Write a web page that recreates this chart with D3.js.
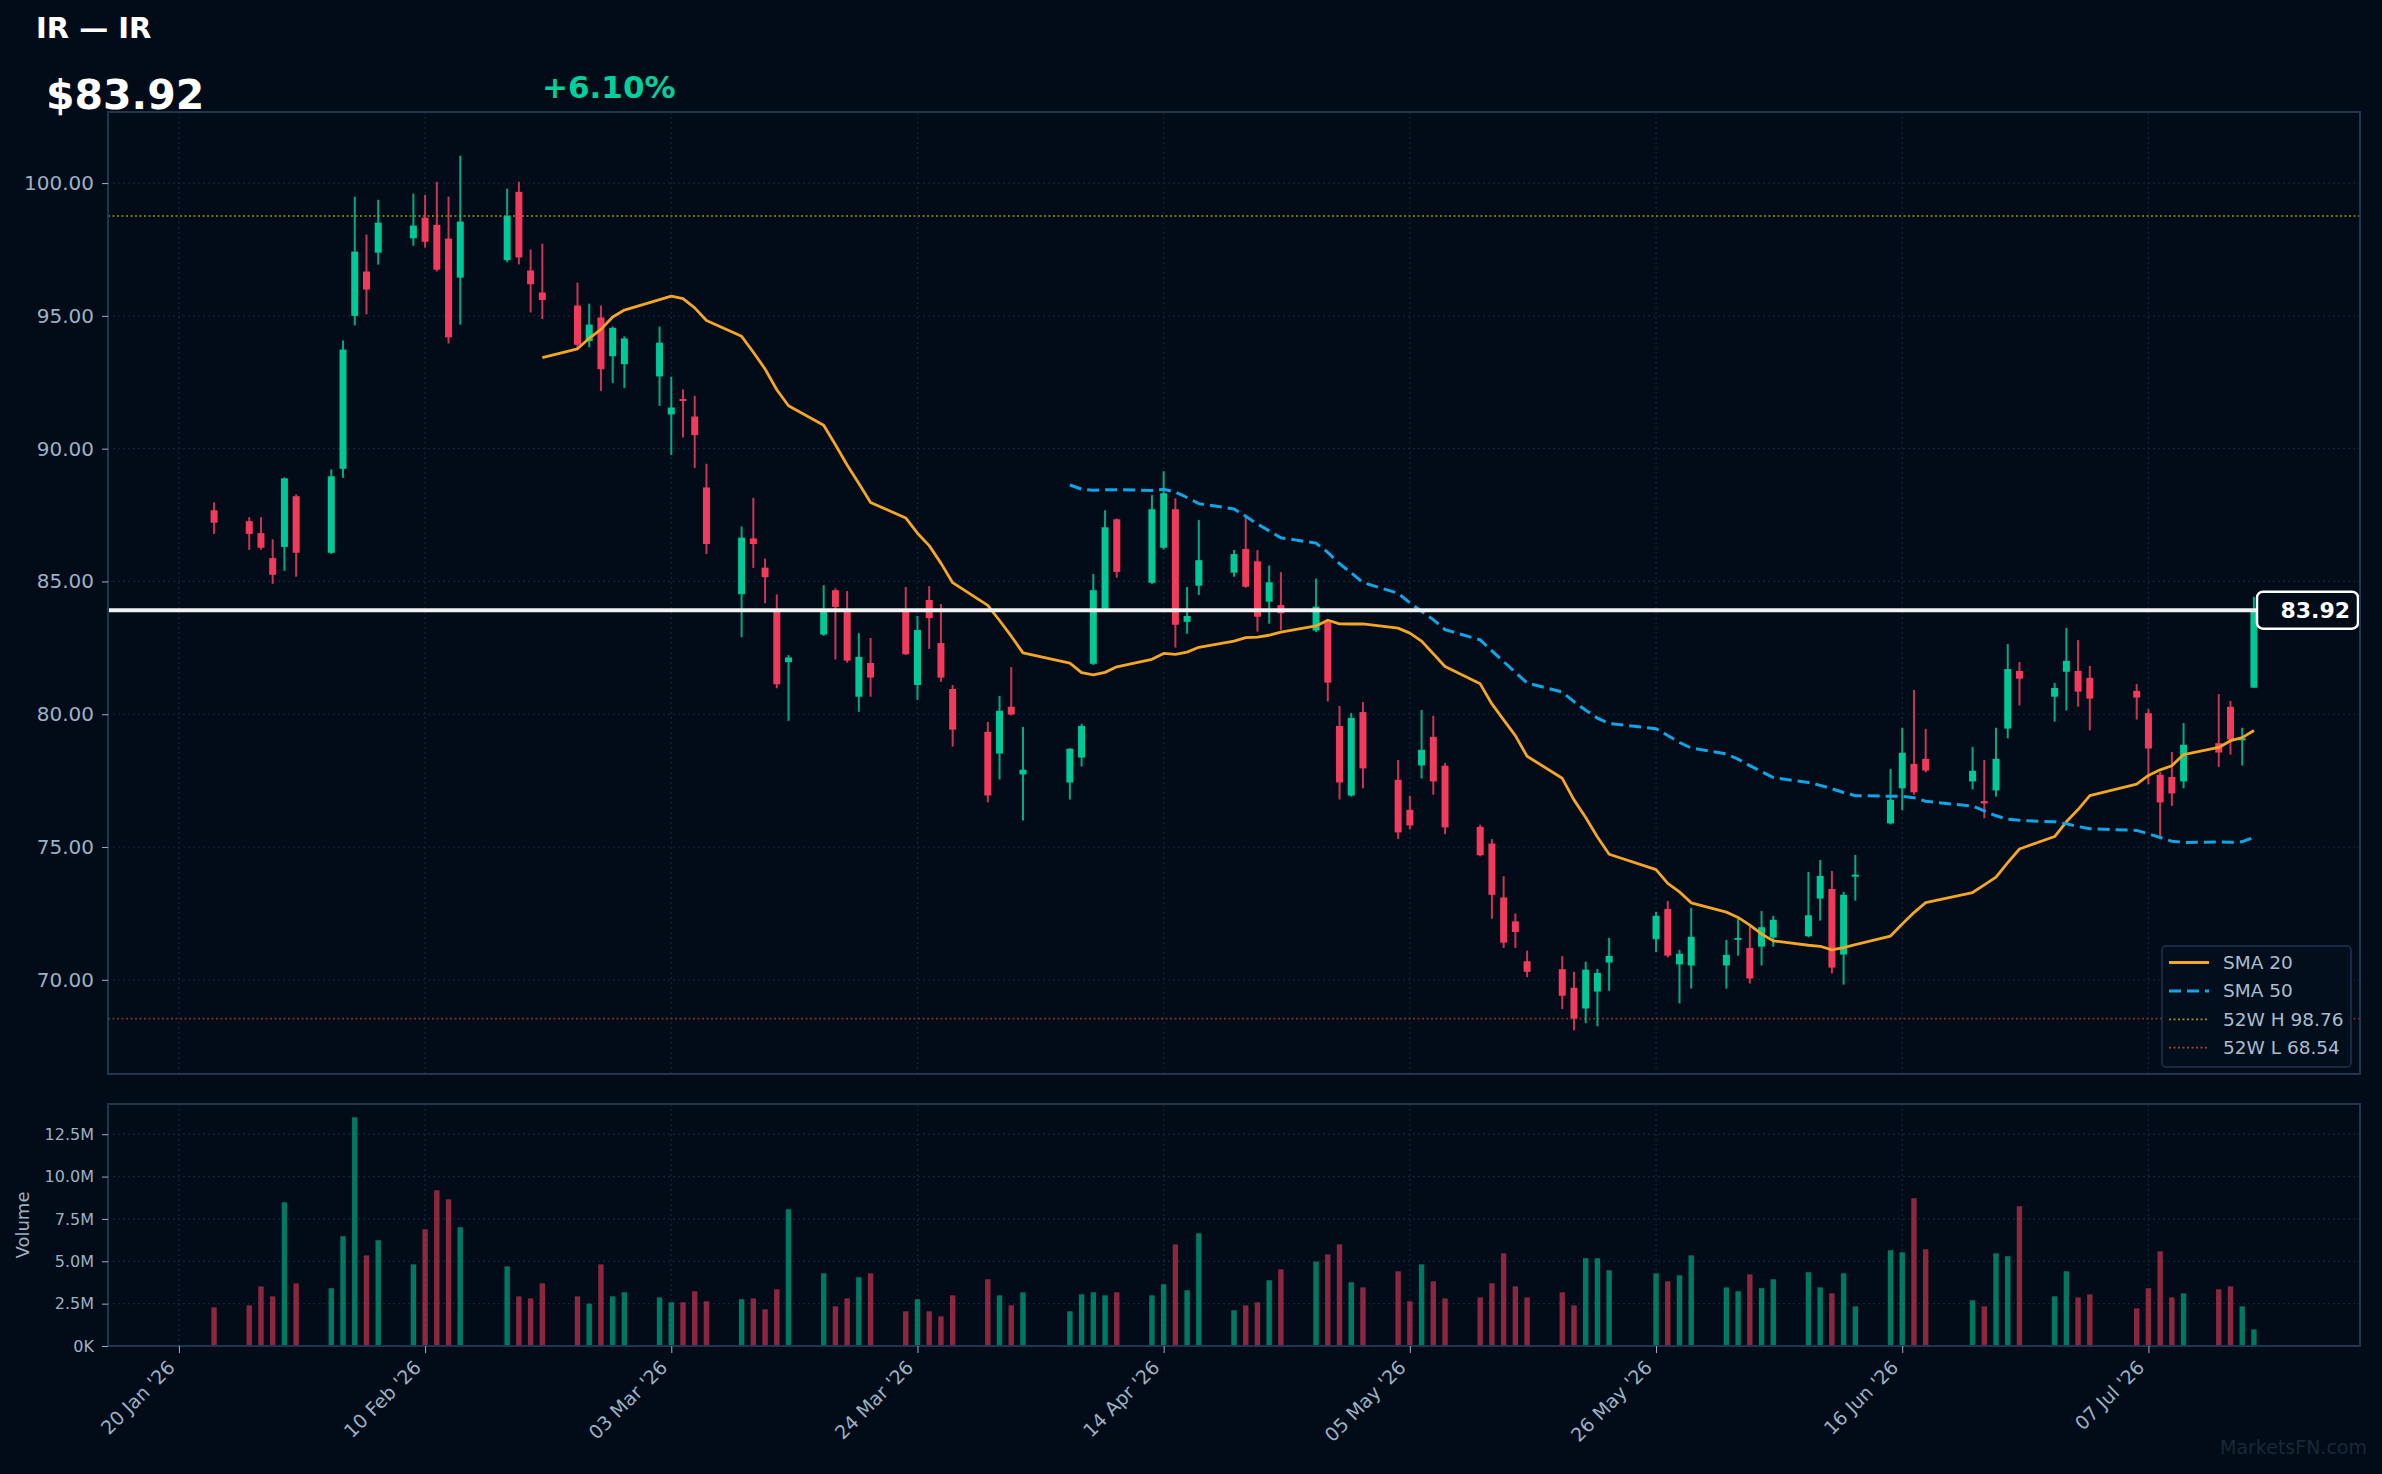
<!DOCTYPE html>
<html>
<head>
<meta charset="utf-8">
<script src="https://cdn.jsdelivr.net/npm/d3@7"></script>
<style>
  html, body { margin: 0; padding: 0; background: #010c18; }
  svg { display: block; font-family: "DejaVu Sans", sans-serif; }
</style>
</head>
<body>
<div id="chart"></div>
<script>
const ticker = "IR";

const dates = [
  "2026-01-23",
  "2026-01-26", "2026-01-27", "2026-01-28", "2026-01-29", "2026-01-30",
  "2026-02-02", "2026-02-03", "2026-02-04", "2026-02-05", "2026-02-06",
  "2026-02-09", "2026-02-10", "2026-02-11", "2026-02-12", "2026-02-13",
  "2026-02-17", "2026-02-18", "2026-02-19", "2026-02-20",
  "2026-02-23", "2026-02-24", "2026-02-25", "2026-02-26", "2026-02-27",
  "2026-03-02", "2026-03-03", "2026-03-04", "2026-03-05", "2026-03-06",
  "2026-03-09", "2026-03-10", "2026-03-11", "2026-03-12", "2026-03-13",
  "2026-03-16", "2026-03-17", "2026-03-18", "2026-03-19", "2026-03-20",
  "2026-03-23", "2026-03-24", "2026-03-25", "2026-03-26", "2026-03-27",
  "2026-03-30", "2026-03-31", "2026-04-01", "2026-04-02",
  "2026-04-06", "2026-04-07", "2026-04-08", "2026-04-09", "2026-04-10",
  "2026-04-13", "2026-04-14", "2026-04-15", "2026-04-16", "2026-04-17",
  "2026-04-20", "2026-04-21", "2026-04-22", "2026-04-23", "2026-04-24",
  "2026-04-27", "2026-04-28", "2026-04-29", "2026-04-30", "2026-05-01",
  "2026-05-04", "2026-05-05", "2026-05-06", "2026-05-07", "2026-05-08",
  "2026-05-11", "2026-05-12", "2026-05-13", "2026-05-14", "2026-05-15",
  "2026-05-18", "2026-05-19", "2026-05-20", "2026-05-21", "2026-05-22",
  "2026-05-26", "2026-05-27", "2026-05-28", "2026-05-29",
  "2026-06-01", "2026-06-02", "2026-06-03", "2026-06-04", "2026-06-05",
  "2026-06-08", "2026-06-09", "2026-06-10", "2026-06-11", "2026-06-12",
  "2026-06-15", "2026-06-16", "2026-06-17", "2026-06-18",
  "2026-06-22", "2026-06-23", "2026-06-24", "2026-06-25", "2026-06-26",
  "2026-06-29", "2026-06-30", "2026-07-01", "2026-07-02",
  "2026-07-06", "2026-07-07", "2026-07-08", "2026-07-09", "2026-07-10",
  "2026-07-13", "2026-07-14", "2026-07-15", "2026-07-16"
];

const opens = [
  87.68,
  87.27, 86.82, 85.88, 86.30, 88.21,
  86.08, 89.24, 95.00, 96.67, 97.38,
  97.92, 98.70, 98.43, 97.91, 96.44,
  97.10, 99.67, 96.71, 95.88,
  95.39, 94.05, 94.94, 93.48, 93.18,
  92.72, 91.29, 91.87, 91.21, 88.54,
  84.52, 86.62, 85.52, 83.96, 81.96,
  83.00, 84.67, 83.85, 80.66, 81.93,
  83.90, 81.10, 84.30, 82.68, 80.95,
  79.34, 78.52, 80.28, 77.73,
  77.43, 78.37, 81.90, 83.98, 87.34,
  84.95, 86.27, 87.72, 83.48, 84.84,
  85.33, 86.22, 85.76, 84.24, 84.11,
  83.15, 83.46, 79.56, 76.94, 80.08,
  77.53, 76.40, 78.07, 79.15, 78.06,
  75.76, 75.13, 73.10, 72.20, 70.70,
  70.40, 69.70, 68.92, 69.56, 70.65,
  71.53, 72.67, 70.58, 70.54,
  70.54, 71.53, 71.20, 71.25, 71.59,
  71.64, 73.06, 73.42, 70.95, 73.90,
  75.89, 77.21, 78.13, 78.32,
  77.47, 76.73, 77.13, 79.46, 81.63,
  80.66, 81.60, 81.63, 81.37,
  80.88, 80.04, 77.72, 77.64, 77.47,
  78.91, 80.28, 79.03, 81.00
];

const highs = [
  87.98,
  87.42, 87.42, 86.59, 88.92, 88.28,
  89.22, 94.07, 99.49, 98.06, 99.37,
  99.60, 99.56, 100.05, 99.49, 101.03,
  99.79, 100.05, 97.50, 97.72,
  96.25, 95.46, 95.39, 94.60, 94.23,
  94.60, 92.71, 92.23, 91.99, 89.43,
  87.07, 88.15, 85.86, 84.51, 82.23,
  84.86, 84.74, 84.64, 83.05, 82.87,
  84.79, 83.70, 84.82, 84.15, 81.10,
  79.71, 80.69, 81.78, 79.52,
  78.72, 79.64, 85.28, 87.68, 87.37,
  88.25, 89.15, 88.13, 84.79, 87.31,
  86.18, 87.43, 86.18, 85.60, 85.35,
  85.11, 83.48, 80.31, 80.05, 80.46,
  78.28, 76.93, 80.16, 79.94, 78.16,
  75.84, 75.30, 73.90, 72.50, 71.10,
  70.90, 70.30, 70.68, 70.41, 71.58,
  72.56, 72.97, 71.13, 72.71,
  71.50, 72.31, 72.00, 72.59, 72.41,
  74.06, 74.51, 74.10, 73.31, 74.70,
  77.94, 79.49, 80.91, 79.45,
  78.77, 78.28, 79.49, 82.64, 81.97,
  81.18, 83.25, 82.79, 81.82,
  81.14, 80.20, 77.83, 78.58, 79.67,
  80.76, 80.50, 79.49, 84.42
];

const lows = [
  86.79,
  86.19, 86.19, 84.91, 85.40, 85.18,
  86.04, 88.90, 94.64, 95.06, 96.93,
  97.64, 97.57, 96.67, 93.96, 94.67,
  97.02, 96.94, 95.13, 94.88,
  93.80, 93.82, 92.17, 92.47, 92.28,
  91.61, 89.76, 90.42, 89.27, 86.03,
  82.90, 85.51, 84.18, 80.98, 79.75,
  82.95, 82.06, 81.94, 80.09, 80.66,
  82.23, 80.54, 82.46, 81.22, 78.78,
  76.68, 77.54, 79.95, 76.00,
  76.79, 78.03, 81.85, 83.90, 85.14,
  84.91, 86.20, 82.51, 83.03, 84.49,
  85.18, 84.76, 83.11, 83.41, 83.17,
  83.10, 80.48, 76.79, 76.90, 77.21,
  75.30, 75.66, 77.58, 76.97, 75.48,
  74.65, 72.30, 71.20, 71.20, 70.10,
  68.90, 68.10, 68.37, 68.25, 69.59,
  71.05, 70.84, 69.11, 69.67,
  69.67, 70.91, 69.86, 70.54, 71.25,
  71.60, 72.23, 70.24, 69.82, 72.98,
  75.85, 76.38, 76.97, 77.81,
  77.17, 76.08, 76.90, 79.09, 80.33,
  79.72, 80.14, 80.28, 79.39,
  79.80, 77.36, 75.40, 76.55, 77.21,
  78.02, 78.48, 78.07, 81.00
];

const closes = [
  87.21,
  86.79, 86.27, 85.25, 88.88, 86.08,
  88.96, 93.73, 97.42, 95.99, 98.51,
  98.40, 97.79, 96.74, 94.19, 98.55,
  98.76, 97.20, 96.19, 95.60,
  93.91, 94.67, 92.99, 94.55, 94.15,
  93.99, 91.55, 91.80, 90.51, 86.41,
  86.65, 86.41, 85.16, 81.13, 82.14,
  83.86, 84.04, 82.02, 82.16, 81.38,
  82.26, 83.17, 83.62, 81.38, 79.42,
  76.94, 80.13, 79.99, 77.91,
  78.70, 79.56, 84.67, 87.04, 85.36,
  87.72, 88.32, 83.37, 83.70, 85.80,
  86.03, 84.80, 83.67, 84.97, 83.80,
  84.05, 81.19, 77.43, 79.86, 77.96,
  75.55, 75.81, 78.66, 77.47, 75.74,
  74.69, 73.20, 71.40, 71.80, 70.30,
  69.40, 68.54, 70.38, 70.26, 70.90,
  72.41, 70.91, 70.98, 71.62,
  70.94, 71.58, 70.05, 71.98, 72.26,
  72.43, 73.91, 70.46, 73.20, 73.96,
  76.78, 78.55, 77.06, 77.88,
  77.87, 76.64, 78.32, 81.70, 81.34,
  80.99, 82.01, 80.85, 80.59,
  80.63, 78.71, 76.68, 77.02, 78.85,
  78.56, 79.05, 79.095, 83.92
];

// volume in millions of shares
const volumes = [
  2.28,
  2.40, 3.52, 2.93, 8.48, 3.70,
  3.41, 6.48, 13.50, 5.35, 6.24,
  4.82, 6.89, 9.19, 8.66, 7.01,
  4.70, 2.93, 2.81, 3.70,
  2.93, 2.50, 4.82, 2.93, 3.17,
  2.87, 2.58, 2.58, 3.23, 2.64,
  2.76, 2.81, 2.17, 3.35, 8.07,
  4.29, 2.34, 2.81, 4.06, 4.29,
  2.05, 2.76, 2.05, 1.75, 2.99,
  3.94, 2.99, 2.40, 3.17,
  2.05, 3.05, 3.17, 2.99, 3.17,
  2.99, 3.64, 6.00, 3.29, 6.65,
  2.11, 2.40, 2.58, 3.88, 4.53,
  4.98, 5.41, 6.00, 3.76, 3.46,
  4.41, 2.64, 4.82, 3.82, 2.81,
  2.87, 3.70, 5.47, 3.52, 2.87,
  3.17, 2.40, 5.18, 5.18, 4.47,
  4.29, 3.82, 4.17, 5.35,
  3.46, 3.23, 4.23, 3.41, 3.94,
  4.35, 3.46, 3.11, 4.29, 2.34,
  5.65, 5.53, 8.72, 5.71,
  2.70, 2.34, 5.47, 5.30, 8.25,
  2.93, 4.41, 2.87, 3.05,
  2.22, 3.41, 5.59, 2.87, 3.11,
  3.35, 3.52, 2.34, 0.98
];

const xTickDates = ["2026-01-20", "2026-02-10", "2026-03-03", "2026-03-24", "2026-04-14",
                    "2026-05-05", "2026-05-26", "2026-06-16", "2026-07-07"];
const priceTicks = [70, 75, 80, 85, 90, 95, 100];
const volumeTicks = [0, 2.5, 5, 7.5, 10, 12.5];

const width = 2382, height = 1474;
const plotLeft = 108, plotRight = 2360;
const mainTop = 112, mainBottom = 1074;
const volTop = 1104, volBottom = 1346;

const bg = "#010c18";
const upColor = "#00c897";
const downColor = "#f23b5c";
const gridColor = "#142539";
const frameColor = "#1e3652";
const textColor = "#9db1c6";
const sma20Color = "#f5a623";
const sma50Color = "#0ea5e9";

const parseDate = d3.timeParse("%Y-%m-%d");

function sma(values, n) {
  return values.map((v, i) => i < n - 1 ? null : d3.mean(values.slice(i - n + 1, i + 1)));
}

function drawChart() {
  const bars = dates.map((d, i) => ({
    date: parseDate(d), open: opens[i], high: highs[i], low: lows[i],
    close: closes[i], volume: volumes[i], up: closes[i] >= opens[i]
  }));
  const sma20 = sma(closes, 20);
  const sma50 = sma(closes, 50);
  const last = closes[closes.length - 1];
  const prev = closes[closes.length - 2];
  const hi52 = d3.max(closes), lo52 = d3.min(closes);

  const svg = d3.select("#chart").append("svg")
    .attr("width", width)
    .attr("height", height)
    .style("background", bg);

  // x: calendar time with padding each side
  const first = bars[0].date, lastDate = bars[bars.length - 1].date;
  const pad = (lastDate - first) * 0.052;
  const x = d3.scaleTime()
    .domain([new Date(+first - pad), new Date(+lastDate + pad)])
    .range([plotLeft, plotRight]);

  const lo = d3.min(lows), hi = d3.max(highs);
  const y = d3.scaleLinear()
    .domain([lo - (hi - lo) * 0.05, hi + (hi - lo) * 0.05])
    .range([mainBottom, mainTop]);

  const yVol = d3.scaleLinear()
    .domain([0, d3.max(volumes) * 1.058])
    .range([volBottom, volTop]);

  const tickDates = xTickDates.map(parseDate);

  // header
  svg.append("text")
    .attr("x", 36).attr("y", 38)
    .attr("fill", "#ffffff").attr("font-size", 29).attr("font-weight", "bold")
    .text(`${ticker} \u2014 ${ticker}`);
  svg.append("text")
    .attr("x", 46).attr("y", 109)
    .attr("fill", "#ffffff").attr("font-size", 41).attr("font-weight", "bold")
    .text("$" + last.toFixed(2));
  const chg = (last / prev - 1) * 100;
  svg.append("text")
    .attr("x", 542).attr("y", 98)
    .attr("fill", chg >= 0 ? "#00d09c" : downColor).attr("font-size", 31).attr("font-weight", "bold")
    .text((chg >= 0 ? "+" : "") + chg.toFixed(2) + "%");

  // panel grids
  [[mainTop, mainBottom], [volTop, volBottom]].forEach(([t, b]) => {
    svg.append("g")
      .selectAll("line")
      .data(tickDates)
      .join("line")
      .attr("x1", d => x(d)).attr("x2", d => x(d))
      .attr("y1", t).attr("y2", b)
      .attr("stroke", gridColor).attr("stroke-width", 1.2)
      .attr("stroke-dasharray", "2,3");
  });

  svg.append("g")
    .selectAll("line")
    .data(priceTicks)
    .join("line")
    .attr("x1", plotLeft).attr("x2", plotRight)
    .attr("y1", d => y(d)).attr("y2", d => y(d))
    .attr("stroke", gridColor).attr("stroke-width", 1.2)
    .attr("stroke-dasharray", "2,3");

  svg.append("g")
    .selectAll("line")
    .data(volumeTicks.slice(1))
    .join("line")
    .attr("x1", plotLeft).attr("x2", plotRight)
    .attr("y1", d => yVol(d)).attr("y2", d => yVol(d))
    .attr("stroke", gridColor).attr("stroke-width", 1.2)
    .attr("stroke-dasharray", "2,3");

  // 52 week high / low
  svg.append("line")
    .attr("x1", plotLeft).attr("x2", plotRight)
    .attr("y1", y(hi52)).attr("y2", y(hi52))
    .attr("stroke", "#a08d1c").attr("stroke-width", 1.8)
    .attr("stroke-dasharray", "2,2.5").attr("opacity", 0.75);
  svg.append("line")
    .attr("x1", plotLeft).attr("x2", plotRight)
    .attr("y1", y(lo52)).attr("y2", y(lo52))
    .attr("stroke", "#a2452e").attr("stroke-width", 1.8)
    .attr("stroke-dasharray", "2,2.5").attr("opacity", 0.75);

  // candles
  const candles = svg.append("g");
  candles.selectAll("line")
    .data(bars)
    .join("line")
    .attr("x1", d => x(d.date)).attr("x2", d => x(d.date))
    .attr("y1", d => y(d.high)).attr("y2", d => y(d.low))
    .attr("stroke", d => d.up ? upColor : downColor)
    .attr("stroke-opacity", 0.85)
    .attr("stroke-width", 2);
  candles.selectAll("rect")
    .data(bars)
    .join("rect")
    .attr("x", d => x(d.date) - 3.5)
    .attr("width", 7)
    .attr("y", d => y(Math.max(d.open, d.close)))
    .attr("height", d => Math.max(2, Math.abs(y(d.open) - y(d.close))))
    .attr("fill", d => d.up ? upColor : downColor);

  // moving averages
  const line = d3.line()
    .defined(d => d.v !== null)
    .x(d => x(d.date))
    .y(d => y(d.v));
  svg.append("path")
    .datum(bars.map((b, i) => ({ date: b.date, v: sma20[i] })))
    .attr("d", line)
    .attr("fill", "none")
    .attr("stroke", sma20Color)
    .attr("stroke-width", 2.8)
    .attr("stroke-linejoin", "round");
  svg.append("path")
    .datum(bars.map((b, i) => ({ date: b.date, v: sma50[i] })))
    .attr("d", line)
    .attr("fill", "none")
    .attr("stroke", sma50Color)
    .attr("stroke-width", 3)
    .attr("stroke-dasharray", "12,6");

  // last price line and tag
  svg.append("line")
    .attr("x1", plotLeft).attr("x2", plotRight)
    .attr("y1", y(last)).attr("y2", y(last))
    .attr("stroke", "#f2f2f2").attr("stroke-width", 4);
  svg.append("rect")
    .attr("x", 2257).attr("y", y(last) - 18.5)
    .attr("width", 101).attr("height", 37)
    .attr("rx", 6)
    .attr("fill", bg)
    .attr("stroke", "#ffffff").attr("stroke-width", 2.5);
  svg.append("text")
    .attr("x", 2350).attr("y", y(last))
    .attr("dy", "0.36em")
    .attr("text-anchor", "end")
    .attr("fill", "#ffffff").attr("font-size", 22).attr("font-weight", "bold")
    .text(last.toFixed(2));

  // volume bars
  svg.append("g")
    .selectAll("rect")
    .data(bars)
    .join("rect")
    .attr("x", d => x(d.date) - 2.7)
    .attr("width", 5.4)
    .attr("y", d => yVol(d.volume))
    .attr("height", d => volBottom - yVol(d.volume))
    .attr("fill", d => d.up ? upColor : downColor)
    .attr("fill-opacity", 0.58);

  // frames
  svg.append("rect")
    .attr("x", plotLeft).attr("y", mainTop)
    .attr("width", plotRight - plotLeft).attr("height", mainBottom - mainTop)
    .attr("fill", "none").attr("stroke", frameColor).attr("stroke-width", 2);
  svg.append("rect")
    .attr("x", plotLeft).attr("y", volTop)
    .attr("width", plotRight - plotLeft).attr("height", volBottom - volTop)
    .attr("fill", "none").attr("stroke", frameColor).attr("stroke-width", 2);

  // axes
  const yAxis = svg.append("g")
    .attr("transform", `translate(${plotLeft},0)`)
    .call(d3.axisLeft(y).tickValues(priceTicks).tickFormat(d3.format(".2f")).tickSize(6).tickPadding(8));
  yAxis.select(".domain").remove();
  yAxis.selectAll("line").attr("stroke", textColor);
  yAxis.selectAll("text").attr("fill", textColor).attr("font-size", 20).attr("font-family", "DejaVu Sans");

  const volAxis = svg.append("g")
    .attr("transform", `translate(${plotLeft},0)`)
    .call(d3.axisLeft(yVol).tickValues(volumeTicks)
      .tickFormat(d => d === 0 ? "0K" : d3.format(".1f")(d) + "M").tickSize(6).tickPadding(8));
  volAxis.select(".domain").remove();
  volAxis.selectAll("line").attr("stroke", textColor);
  volAxis.selectAll("text").attr("fill", textColor).attr("font-size", 16).attr("font-family", "DejaVu Sans");

  svg.append("text")
    .attr("transform", `translate(23,${(volTop + volBottom) / 2}) rotate(-90)`)
    .attr("text-anchor", "middle")
    .attr("dy", "0.35em")
    .attr("fill", textColor).attr("font-size", 18)
    .text("Volume");

  const xAxis = svg.append("g")
    .attr("transform", `translate(0,${volBottom})`)
    .call(d3.axisBottom(x).tickValues(tickDates).tickFormat(d3.timeFormat("%d %b '%y")).tickSize(7));
  xAxis.select(".domain").remove();
  xAxis.selectAll("line").attr("stroke", textColor);
  xAxis.selectAll("text")
    .attr("fill", textColor).attr("font-size", 19).attr("font-family", "DejaVu Sans")
    .attr("text-anchor", "end")
    .attr("transform", "translate(-8,18) rotate(-45)")
    .attr("dx", 0).attr("dy", "0.35em").attr("y", 0).attr("x", 0);

  // legend
  const legendItems = [
    { label: "SMA 20", color: sma20Color, width: 3, dash: null },
    { label: "SMA 50", color: sma50Color, width: 3, dash: "12,6" },
    { label: `52W H ${hi52.toFixed(2)}`, color: "#a08d1c", width: 1.8, dash: "2,2.5" },
    { label: `52W L ${lo52.toFixed(2)}`, color: "#a2452e", width: 1.8, dash: "2,2.5" }
  ];
  const legend = svg.append("g").attr("transform", "translate(2162,946)");
  legend.append("rect")
    .attr("width", 189).attr("height", 121).attr("rx", 4)
    .attr("fill", "#020e1b").attr("stroke", frameColor).attr("stroke-width", 1.5);
  const item = legend.selectAll("g")
    .data(legendItems)
    .join("g")
    .attr("transform", (d, i) => `translate(0,${16.5 + i * 28.4})`);
  item.append("line")
    .attr("x1", 7).attr("x2", 47)
    .attr("stroke", d => d.color)
    .attr("stroke-width", d => d.width)
    .attr("stroke-dasharray", d => d.dash);
  item.append("text")
    .attr("x", 61).attr("dy", "0.35em")
    .attr("fill", "#a9bdd1").attr("font-size", 18.5)
    .text(d => d.label);

  svg.append("text")
    .attr("x", 2367).attr("y", 1454)
    .attr("text-anchor", "end")
    .attr("fill", "#18283a").attr("font-size", 19)
    .text("MarketsFN.com");
}

drawChart();
</script>
</body>
</html>
